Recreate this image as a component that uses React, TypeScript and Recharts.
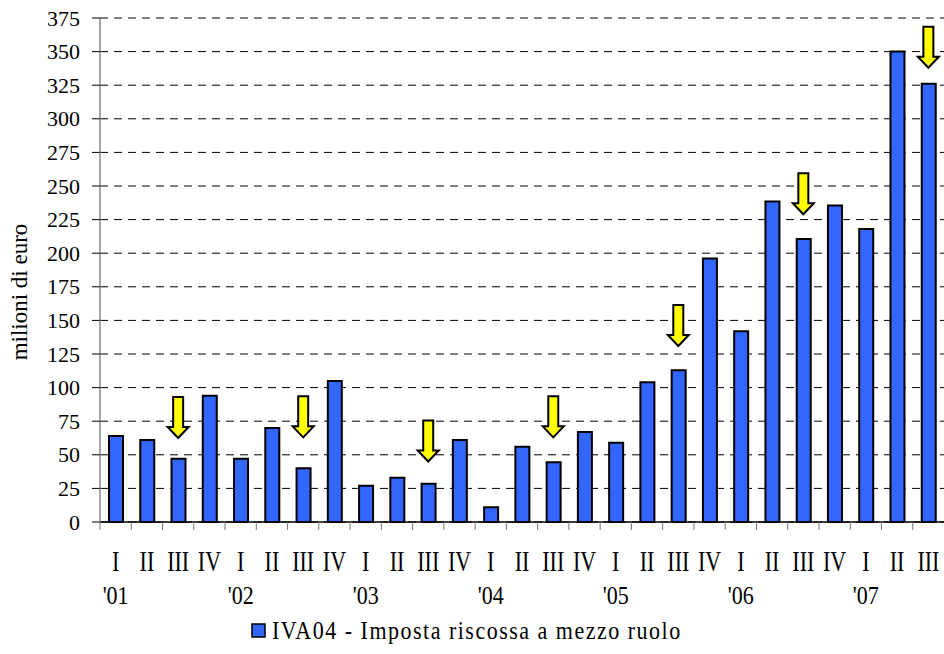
import { ComposedChart, Bar, Line, XAxis, YAxis, CartesianGrid, Legend, Label } from 'recharts';

const quarters = ['I', 'II', 'III', 'IV', 'I', 'II', 'III', 'IV', 'I', 'II', 'III', 'IV', 'I', 'II', 'III', 'IV', 'I', 'II', 'III', 'IV', 'I', 'II', 'III', 'IV', 'I', 'II', 'III'];
const years = ["'01", '', '', '', "'02", '', '', '', "'03", '', '', '', "'04", '', '', '', "'05", '', '', '', "'06", '', '', '', "'07", '', ''];
const riscossa = [64, 61, 47, 94, 47, 70, 40, 105, 27, 33, 28.5, 61, 11, 56, 44.5, 67, 59, 104, 113, 196, 142, 238.5, 210.5, 235.5, 218, 350, 326];
// arrow tip value over each third quarter
const arrowTips = [null, null, 62.5, null, null, null, 63, null, null, null, 45, null, null, null, 63, null, null, null, 131, null, null, null, 229, null, null, null, 338];
const yTicks = [0, 25, 50, 75, 100, 125, 150, 175, 200, 225, 250, 275, 300, 325, 350, 375];

const data = quarters.map((q, i) => ({
  key: `${i}-${q}`,
  value: riscossa[i],
  arrow: arrowTips[i],
}));

const FONT = 'Liberation Serif, Times New Roman, serif';
const BAND = 844 / quarters.length;

const QuarterTick = (props: any) => {
  const { x, y, payload } = props;
  const i = payload.index;
  return (
    <g>
      <line x1={x - BAND / 2} y1={y} x2={x - BAND / 2} y2={y + 8} stroke="#777" strokeWidth={1} />
      <text transform={`translate(${x},${y + 49}) scale(1,1.3)`} textAnchor="middle" fontSize={22} fontFamily={FONT} fill="#000">
        {quarters[i]}
      </text>
      {years[i] && (
        <text transform={`translate(${x},${y + 82}) scale(1,1.15)`} textAnchor="middle" fontSize={22} fontFamily={FONT} fill="#000">
          {years[i]}
        </text>
      )}
    </g>
  );
};

const ValueTick = (props: any) => {
  const { x, y, payload } = props;
  return (
    <text x={x} y={y + 7.5} textAnchor="end" fontSize={22} fontFamily={FONT} fill="#000">
      {payload.value}
    </text>
  );
};

const ArrowDot = (props: any) => {
  const { cx, cy, value, index } = props;
  if (value == null || cy == null || isNaN(cy)) return <g key={`a-${index}`} />;
  // tip at (cx, cy), arrow 41px tall
  const top = cy - 41;
  const neck = cy - 11;
  const pts = [
    [cx - 5, top], [cx + 5, top], [cx + 5, neck], [cx + 10.5, neck],
    [cx, cy], [cx - 10.5, neck], [cx - 5, neck],
  ].map((p) => p.join(',')).join(' ');
  return <polygon key={`a-${index}`} points={pts} fill="#ffff00" stroke="#000" strokeWidth={2} strokeLinejoin="miter" />;
};

const LegendContent = () => (
  <svg width={460} height={30}>
    <rect x={2} y={10} width={13} height={13} fill="#3366ff" stroke="#000" strokeWidth={1.5} />
    <text transform="translate(22,25) scale(1,1.17)" fontSize={22} fontFamily={FONT} letterSpacing={1.5} fill="#000">
      IVA04 - Imposta riscossa a mezzo ruolo
    </text>
  </svg>
);

export default function App() {
  return (
    <div style={{ position: 'absolute', left: 0, top: 0, width: 944, height: 654, background: '#fff', fontFamily: FONT }}>
      <ComposedChart width={944} height={654} data={data} margin={{ top: 18, right: 0, left: 0, bottom: 0 }}>
        <CartesianGrid vertical={false} stroke="#000" strokeDasharray="8 6" />
        <XAxis
          dataKey="key"
          height={132}
          interval={0}
          axisLine={{ stroke: '#000', strokeWidth: 1.5 }}
          tickLine={false}
          tickSize={0}
          tickMargin={0}
          tick={<QuarterTick />}
        />
        <YAxis
          width={100}
          domain={[0, 375]}
          ticks={yTicks}
          interval={0}
          axisLine={{ stroke: '#888', strokeWidth: 1.5 }}
          tickLine={{ stroke: '#000' }}
          tickSize={8}
          tickMargin={12}
          tick={<ValueTick />}
        >
          <Label
            content={() => (
              <text transform="translate(27,292) rotate(-90)" textAnchor="middle" fontSize={23} fontFamily={FONT} fill="#000">
                milioni di euro
              </text>
            )}
          />
        </YAxis>
        <Bar dataKey="value" fill="#3366ff" stroke="#000" strokeWidth={2} barSize={14} isAnimationActive={false} />
        <Line dataKey="arrow" stroke="none" dot={<ArrowDot />} activeDot={false} legendType="none" isAnimationActive={false} />
        <Legend
          layout="horizontal"
          verticalAlign="middle"
          align="center"
          content={<LegendContent />}
          wrapperStyle={{ position: 'absolute', top: 614, left: 250, width: 460 }}
        />
      </ComposedChart>
    </div>
  );
}
